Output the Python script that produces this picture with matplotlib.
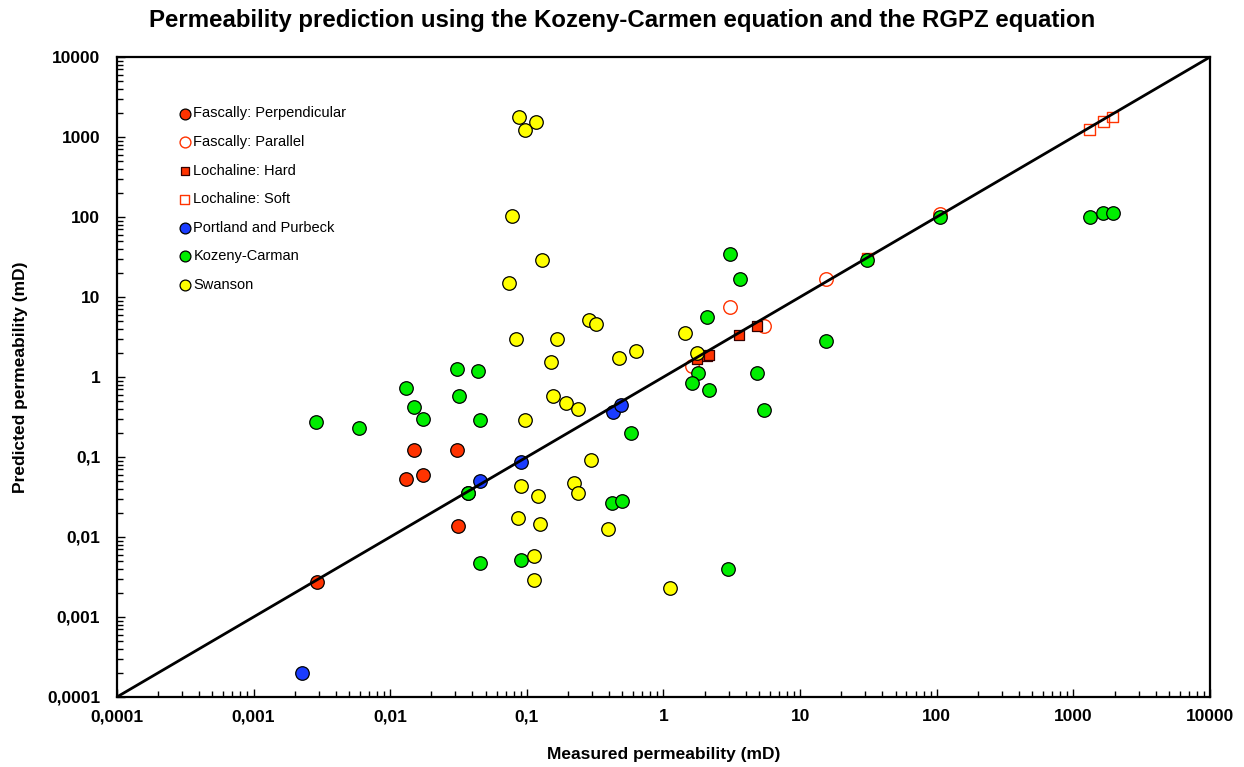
import numpy as np
import matplotlib.pyplot as plt
from matplotlib.ticker import FixedLocator, FixedFormatter, LogLocator, NullFormatter

plt.rcParams['font.family'] = ['Liberation Sans', 'DejaVu Sans']

# Dados (mD)
fasc_perp_x = [0.0149, 0.0307, 0.013, 0.0173, 0.0316, 0.0029]
fasc_perp_y = [0.124, 0.124, 0.0524, 0.0593, 0.0137, 0.0027]

fasc_par_x = [3.07, 5.45, 15.4, 1.61, 105]
fasc_par_y = [7.5, 4.3, 16.8, 1.36, 108]

loch_hard_x = [3.6, 4.82, 2.07, 1.75, 2.17]
loch_hard_y = [3.36, 4.35, 1.85, 1.68, 1.9]

loch_soft_x = [1312, 1660, 1923, 31]
loch_soft_y = [1228, 1575, 1783, 30]

portland_x = [0.00227, 0.0454, 0.09, 0.037, 0.426, 0.49]
portland_y = [0.000198, 0.05, 0.086, 0.0357, 0.366, 0.45]

kozeny_x = [0.00287, 0.00588, 0.013, 0.0149, 0.0173, 0.031, 0.0441, 0.0321, 0.0457,
            0.037, 0.0454, 0.09, 0.419, 0.5, 2.99, 3.07, 3.64, 2.07, 15.4, 1.79,
            1.61, 2.15, 4.82, 5.45, 0.577, 1312, 1660, 1950, 105, 31]
kozeny_y = [0.27, 0.229, 0.73, 0.42, 0.3, 1.27, 1.19, 0.574, 0.294,
            0.0357, 0.00477, 0.00515, 0.0268, 0.0281, 0.00394, 34.7, 16.8, 5.56, 2.85, 1.12,
            0.83, 0.69, 1.12, 0.39, 0.2, 98.6, 112, 112, 100, 29]

swanson_x = [0.0877, 0.116, 0.097, 0.078, 0.13, 0.0745, 0.284, 0.322, 0.0838, 0.167,
             1.44, 0.15, 0.155, 0.193, 0.238, 0.097, 0.09, 0.12, 0.222, 0.238,
             0.0867, 0.125, 0.112, 0.112, 0.395, 1.12, 0.473, 0.63, 1.76, 0.295]
swanson_y = [1766, 1556, 1228, 104, 28.6, 14.8, 5.2, 4.6, 3.0, 3.0,
             3.5, 1.52, 0.574, 0.479, 0.40, 0.294, 0.0436, 0.0324, 0.0467, 0.0357,
             0.0174, 0.0147, 0.00578, 0.00287, 0.0127, 0.00228, 1.73, 2.1, 2.0, 0.091]

tick_vals = [0.0001, 0.001, 0.01, 0.1, 1, 10, 100, 1000, 10000]
tick_labels = ['0,0001', '0,001', '0,01', '0,1', '1', '10', '100', '1000', '10000']

red = '#ff3300'

fig = plt.figure(figsize=(12.44, 7.67), dpi=100)
ax = fig.add_axes([0.094, 0.0913, 0.8787, 0.8344])

ax.scatter(fasc_perp_x, fasc_perp_y, s=95, c=red, edgecolors='black', linewidths=0.9,
           marker='o', label='Fascally: Perpendicular', zorder=3)
ax.scatter(fasc_par_x, fasc_par_y, s=95, facecolors='white', edgecolors=red, linewidths=1.0,
           marker='o', label='Fascally: Parallel', zorder=3)
ax.scatter(loch_hard_x, loch_hard_y, s=60, c=red, edgecolors='#330000', linewidths=0.9,
           marker='s', label='Lochaline: Hard', zorder=3)
ax.scatter(loch_soft_x, loch_soft_y, s=60, facecolors='none', edgecolors=red, linewidths=1.0,
           marker='s', label='Lochaline: Soft', zorder=3)
ax.scatter(portland_x, portland_y, s=95, c='#1a3cff', edgecolors='black', linewidths=0.9,
           marker='o', label='Portland and Purbeck', zorder=3)
ax.scatter(kozeny_x, kozeny_y, s=95, c='#00ee00', edgecolors='black', linewidths=0.9,
           marker='o', label='Kozeny-Carman', zorder=3)
ax.scatter(swanson_x, swanson_y, s=95, c='#ffff00', edgecolors='black', linewidths=0.9,
           marker='o', label='Swanson', zorder=3)

# Linha 1:1
ax.plot([0.0001, 10000], [0.0001, 10000], color='black', lw=2.0, zorder=4)

ax.set_xscale('log')
ax.set_yscale('log')
ax.set_xlim(0.0001, 10000)
ax.set_ylim(0.0001, 10000)

for axis in (ax.xaxis, ax.yaxis):
    axis.set_major_locator(FixedLocator(tick_vals))
    axis.set_major_formatter(FixedFormatter(tick_labels))
    axis.set_minor_locator(LogLocator(base=10, subs=np.arange(2, 10), numticks=20))
    axis.set_minor_formatter(NullFormatter())

ax.tick_params(which='both', direction='in', width=1.0, color='black')
ax.tick_params(which='major', length=6, labelsize=12.5)
ax.tick_params(which='minor', length=4)
ax.tick_params(axis='x', which='major', pad=9)
ax.tick_params(axis='y', which='major', pad=12)
for lab in ax.get_xticklabels() + ax.get_yticklabels():
    lab.set_fontweight('bold')

for sp in ax.spines.values():
    sp.set_linewidth(1.6)
    sp.set_color('black')

ax.set_xlabel('Measured permeability (mD)', fontsize=12.5, fontweight='bold', labelpad=16)
ax.set_ylabel('Predicted permeability (mD)', fontsize=12.5, fontweight='bold', labelpad=14)
fig.suptitle('Permeability prediction using the Kozeny-Carmen equation and the RGPZ equation',
             fontsize=17.3, fontweight='bold', x=0.5, y=0.988)

ax.legend(loc='upper left', bbox_to_anchor=(0.05, 0.932), frameon=False, fontsize=10.5,
          markerscale=0.8, handletextpad=0.1, labelspacing=1.0, handlelength=1.0,
          borderaxespad=0)

fig.savefig('out.png', dpi=100)
